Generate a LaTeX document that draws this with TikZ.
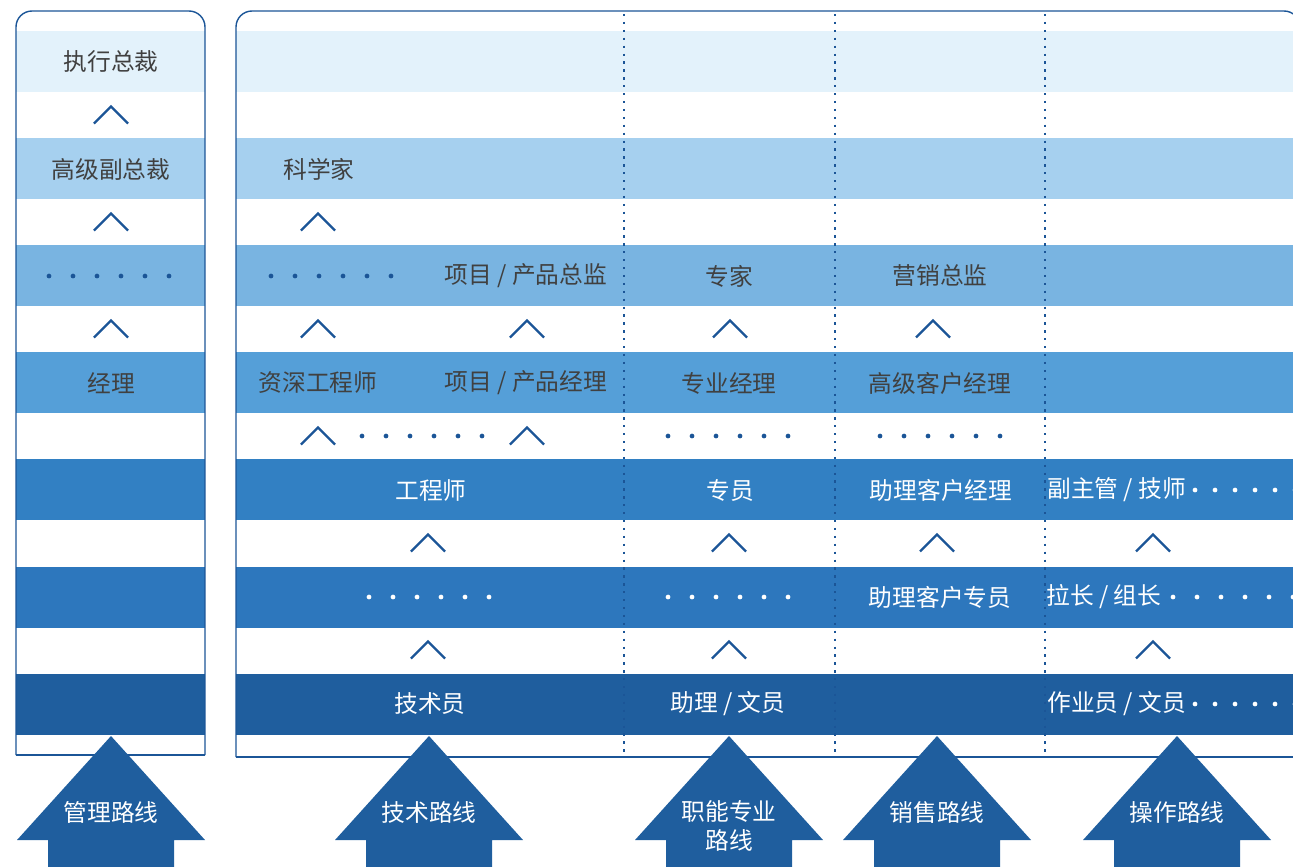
\documentclass[tikz,border=0pt]{standalone}
\usepackage{fontspec}
\setmainfont{Noto Sans CJK SC}
\usepackage{tikz}
\usetikzlibrary{positioning,calc}
\usepackage{xcolor}
\definecolor{bandA}{HTML}{E3F2FB}
\definecolor{bandB}{HTML}{A6D0EF}
\definecolor{bandC}{HTML}{79B4E1}
\definecolor{bandD}{HTML}{559FD8}
\definecolor{bandE}{HTML}{3280C3}
\definecolor{bandF}{HTML}{2D77BD}
\definecolor{bandG}{HTML}{1F5E9E}
\definecolor{navy}{HTML}{1B5597}
\definecolor{ink}{HTML}{404040}
\newcommand{\upmark}[2]{\draw[upline] (#1,#2) ++(-17,8.5) -- ++(17,-17) -- ++(17,17);}
\newcommand{\dotrow}[4]{\foreach \i in {0,...,5} \fill[#4] (#1+#3*\i,#2) circle (1.35pt);}

\begin{document}
\begin{tikzpicture}[x=0.02cm,y=-0.02cm,
    dark/.style={text=ink,font=\fontsize{13.5}{16}\selectfont,inner sep=0pt},
    light/.style={text=white,font=\fontsize{13.5}{16}\selectfont,inner sep=0pt},
    upline/.style={navy,line width=1.3pt},
    frame/.style={navy,line width=0.8pt},
    lane/.style={navy,line width=1.4pt,dash pattern=on 1.3pt off 3.2pt}]
\useasboundingbox (0,0) rectangle (1293,866);
\clip (0,0) rectangle (1293,866);
% bands
\foreach \y/\c in {31/bandA,138/bandB,245/bandC,352/bandD,459/bandE,567/bandF,674/bandG}{
    \fill[\c] (16,\y) rectangle (205,\y+61);
    \fill[\c] (236,\y) rectangle (1310,\y+61);
}
% frames
\draw[frame,rounded corners=0.32cm] (16,755) -- (16,11) -- (205,11) -- (205,755);
\draw[frame] (16,755) -- (205,755);
\draw[frame,rounded corners=0.32cm] (236,757) -- (236,11) -- (1300,11) -- (1300,757);
\draw[frame] (236,757) -- (1300,757);
% lanes
\foreach \x in {624,835,1045}
    \draw[lane] (\x,14) -- (\x,755);

% management
\node[dark] (ceo) at (111,62) {执行总裁};
\node[dark] (svp) at (111,169) {高级副总裁};
\node[dark] (mgr) at (111,383) {经理};
\upmark{111}{115}
\upmark{111}{222}
\upmark{111}{329}
\dotrow{49}{276}{24}{navy}

% technical
\node[dark] (sci) at (319,169) {科学家};
\node[dark] (pdir) at (526,276) {项目 / 产品总监};
\node[dark] (seng) at (318,383) {资深工程师};
\node[dark] (pmgr) at (526,383) {项目 / 产品经理};
\node[light] (eng) at (431,490) {工程师};
\node[light] (tech) at (430,704) {技术员};
\upmark{318}{222}
\upmark{318}{329}
\upmark{527}{329}
\upmark{318}{436}
\upmark{527}{436}
\upmark{428}{543}
\upmark{428}{650}
\dotrow{271}{276}{24}{navy}
\dotrow{362}{436}{24}{navy}
\dotrow{369}{597}{24}{white}

% functional
\node[dark] (expert) at (729,276) {专家};
\node[dark] (fmgr) at (729,383) {专业经理};
\node[light] (spec) at (730,490) {专员};
\node[light] (clerk) at (728,704) {助理 / 文员};
\upmark{730}{329}
\upmark{729}{543}
\upmark{729}{650}
\dotrow{668}{436}{24}{navy}
\dotrow{668}{597}{24}{white}

% sales
\node[dark] (sdir) at (940,276) {营销总监};
\node[dark] (skam) at (940,383) {高级客户经理};
\node[light] (akam) at (941,490) {助理客户经理};
\node[light] (akas) at (940,597) {助理客户专员};
\upmark{933}{329}
\upmark{937}{543}
\dotrow{880}{436}{24}{navy}

% operations
\node[light,anchor=west] (sup) at (1047,490) {副主管 / 技师};
\node[light,anchor=west] (lead) at (1046,597) {拉长 / 组长};
\node[light,anchor=west] (worker) at (1047,704) {作业员 / 文员};
\upmark{1153}{543}
\upmark{1153}{650}
\dotrow{1195}{490}{20}{white}
\dotrow{1173}{597}{24}{white}
\dotrow{1195}{704}{20}{white}

% route arrows
\foreach \x in {111,429,729,937,1177}
    \fill[bandG] (\x,736) -- (\x+94,840) -- (\x+63,840) -- (\x+63,880)
        -- (\x-63,880) -- (\x-63,840) -- (\x-94,840) -- cycle;
\node[light] (rmgmt) at (111,812) {管理路线};
\node[light] (rtech) at (429,812) {技术路线};
\node[light,align=center,font=\fontsize{13.5}{16.8}\selectfont] (rfunc) at (729,826) {职能专业\\路线};
\node[light] (rsale) at (937,812) {销售路线};
\node[light] (rops) at (1177,812) {操作路线};
\end{tikzpicture}
\end{document}
